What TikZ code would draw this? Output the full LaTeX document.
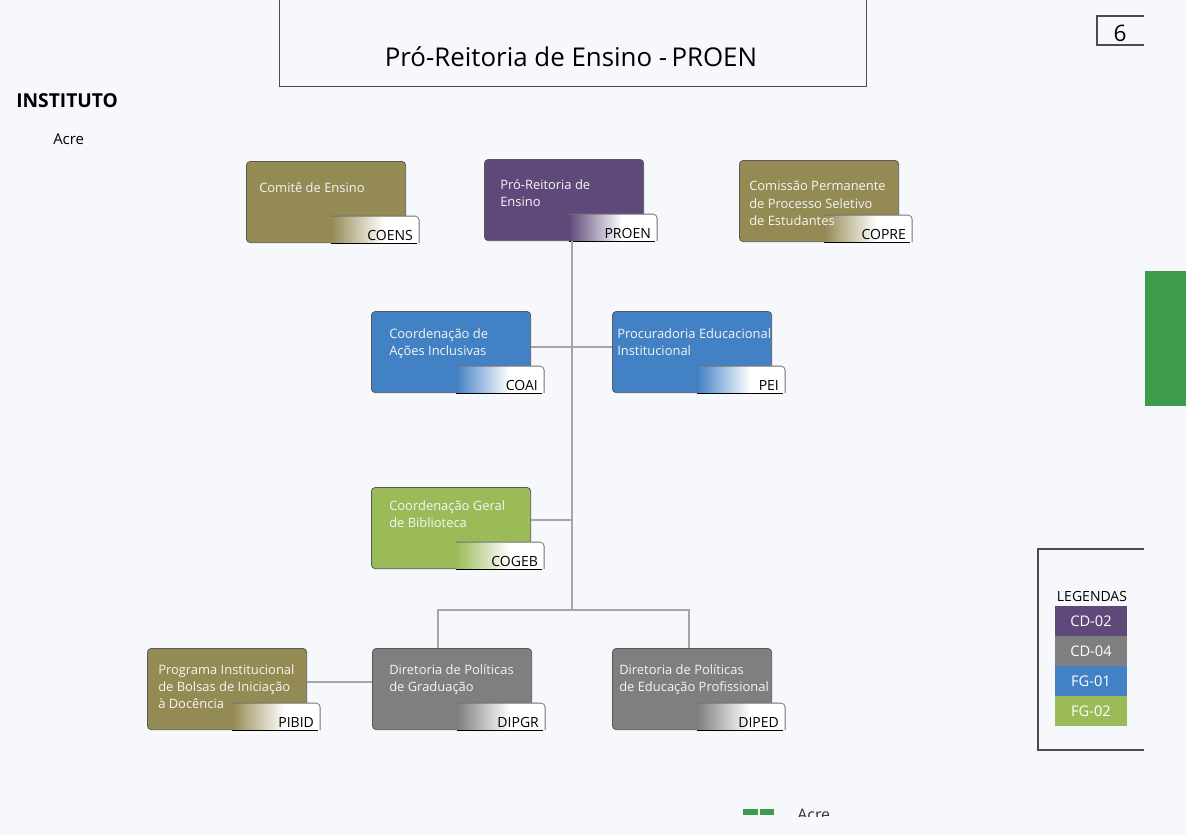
\documentclass[tikz,border=0pt]{standalone}
\usepackage{fontspec}
\setmainfont{Open Sans}
\usetikzlibrary{calc}
\definecolor{bg}{RGB}{246,248,252}
\definecolor{cpurple}{RGB}{95,73,122}
\definecolor{colive}{RGB}{148,138,84}
\definecolor{cblue}{RGB}{66,129,196}
\definecolor{cgreen}{RGB}{155,187,89}
\definecolor{cgray}{RGB}{127,127,127}
\definecolor{cbar}{RGB}{62,155,75}
\definecolor{cline}{RGB}{165,165,170}
\newcommand\orgbox[6]{%
  \node[orgbox, fill=#3] (#1) at (#2) {};
  \fill[white] ($(#1.south east)+(-75,-27)$) rectangle ($(#1.south east)+(13,0)$);
  \shade[left color=#3, right color=white] ($(#1.south east)+(-75,-27)$) rectangle ($(#1.south east)+(-22,0)$);
  \draw[tagedge] ($(#1.south east)+(-75,-27)$) -- ($(#1.south east)+(13,-27)$) -- ($(#1.south east)+(13,0)$);
  \draw[black, line width=0.8pt] ($(#1.south east)+(-75,0)$) -- ($(#1.south east)+(11,0)$);
  \node[taglabel] (#1-tag) at ($(#1.south east)+(7,-3)$) {#6};
  \node[boxtext] (#1-text) at ($(#1.north west)+(#4)$) {#5};
}
\begin{document}
\begin{tikzpicture}[x=0.75pt,y=-0.75pt,
  orgbox/.style={draw=black!65, line width=0.6pt, rounded corners=3pt,
    minimum width=119.5pt, minimum height=61pt, anchor=north west, inner sep=0pt},
  boxtext/.style={text=white!96!black, font=\fontsize{9.7}{13}\selectfont,
    align=left, anchor=north west, inner sep=0pt, execute at begin node=\strut},
  taglabel/.style={text=black, font=\fontsize{10.5}{12}\selectfont, anchor=base east, inner sep=0pt},
  tagedge/.style={draw=black!55, line width=0.6pt, rounded corners=3pt},
  conn/.style={draw=cline, line width=1.1pt},
  frame/.style={draw=black!70, line width=0.8pt},
  legend/.style={minimum width=54pt, minimum height=22.5pt, inner sep=0pt,
    text=white, font=\fontsize{11}{13}\selectfont}
]
\useasboundingbox (0,0) rectangle (1186,835);
\fill[bg] (0,0) rectangle (1186,835);

% title
\node[frame, draw, anchor=south west, minimum width=440.25pt, minimum height=70pt, inner sep=0pt] (titlebox) at (279,87) {};
\node[font=\fontsize{19.4}{23}\selectfont, inner sep=0pt] (title) at (571,57) {Pró-Reitoria de Ensino -\,PROEN};

% page number
\draw[frame] (1144,16) -- (1097,16) -- (1097,45) -- (1144,45);
\node[font=\fontsize{17}{19}\selectfont, inner sep=0pt] (pagenum) at (1120,33) {6};

% header texts
\node[font=\bfseries\fontsize{14.4}{17}\selectfont, anchor=west, inner sep=0pt] (inst) at (16,101) {INSTITUTO};
\node[font=\fontsize{11.2}{13}\selectfont, anchor=west, inner sep=0pt] (acre) at (53,139) {Acre};

% green bar
\fill[cbar] (1145,271) rectangle (1186,406);

% boxes
\orgbox{coens}{246,161}{colive}{13,19}{Comitê de Ensino}{COENS}
\orgbox{proen}{484,159}{cpurple}{16,20}{Pró-Reitoria de\\Ensino}{PROEN}
\orgbox{copre}{739,160}{colive}{10,21}{Comissão Permanente\\de Processo Seletivo\\de Estudantes}{COPRE}
\orgbox{coai}{371,311}{cblue}{18,17}{Coordenação de\\Ações Inclusivas}{COAI}
\orgbox{pei}{612,311}{cblue}{5,17}{Procuradoria Educacional\\Institucional}{PEI}
\orgbox{cogeb}{371,487}{cgreen}{18,13}{Coordenação Geral\\de Biblioteca}{COGEB}
\orgbox{pibid}{147,648}{colive}{11,16}{Programa Institucional\\de Bolsas de Iniciação\\à Docência}{PIBID}
\orgbox{dipgr}{372,648}{cgray}{17,16}{Diretoria de Políticas\\de Graduação}{DIPGR}
\orgbox{diped}{612,648}{cgray}{7,16}{Diretoria de Políticas\\de Educação Profissional}{DIPED}

% connectors
\coordinate (spine) at (572,241);
\coordinate (jA) at (572,347);
\coordinate (jB) at (572,520);
\coordinate (jC) at (572,610);
\coordinate (lD) at (438,610);
\coordinate (rD) at (689,610);
\coordinate (jE) at (330,682);
\draw[conn] (spine |- proen.south) -- (jC);
\draw[conn] (coai.east |- jA) -- (pei.west |- jA);
\draw[conn] (cogeb.east |- jB) -- (jB);
\draw[conn] (lD |- dipgr.north) -- (lD) -- (rD) -- (rD |- diped.north);
\draw[conn] (pibid.east |- jE) -- (dipgr.west |- jE);

% legend
\draw[frame] (1144,549) -- (1038,549) -- (1038,750) -- (1144,750);
\node[font=\fontsize{10.5}{12}\selectfont, inner sep=0pt] (legtitle) at (1092,596) {LEGENDAS};
\node[legend, fill=cpurple] (lg1) at (1091,621) {CD-02};
\node[legend, fill=cgray] (lg2) at (1091,651) {CD-04};
\node[legend, fill=cblue] (lg3) at (1091,681) {FG-01};
\node[legend, fill=cgreen] (lg4) at (1091,711) {FG-02};

% bottom clipped footer
\begin{scope}
\clip (700,790) rectangle (900,816);
\fill[cbar] (743,809) rectangle (758,815);
\fill[cbar] (760,809) rectangle (774,815);
\node[font=\fontsize{12}{14}\selectfont, anchor=west, inner sep=0pt, text=black!80] (acre2) at (797,815) {Acre};
\end{scope}
\end{tikzpicture}
\end{document}
